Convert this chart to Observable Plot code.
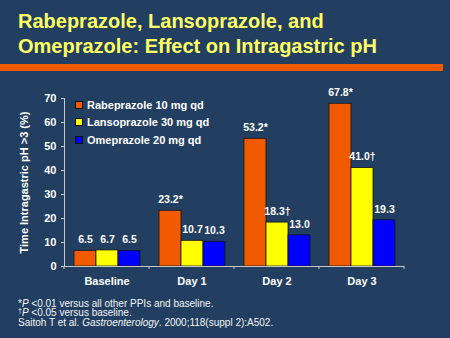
<!DOCTYPE html>
<html>
<head>
<meta charset="utf-8">
<script src="https://cdn.jsdelivr.net/npm/d3@7"></script>
<script src="https://cdn.jsdelivr.net/npm/@observablehq/plot@0.6"></script>
<style>
  html, body { margin: 0; padding: 0; }
  body { width: 450px; height: 338px; background: #223f61; position: relative; overflow: hidden;
         font-family: "Liberation Sans", Arial, sans-serif; color: #fff; }
  #title { position: absolute; left: 18px; top: 9px; font-size: 20px; line-height: 24.5px; font-weight: bold; color: #ffff66; white-space: nowrap; }
  #rule { position: absolute; left: 0; top: 64px; width: 443px; height: 7px; background: #f25a00; }
  #chart { position: absolute; left: 0; top: 80px; }
  #ylabel { position: absolute; left: -76px; top: 175.5px; width: 200px; text-align: center; font-size: 11px; line-height: 13px; font-weight: bold; transform: rotate(-90deg); white-space: nowrap; }
  #legend { position: absolute; left: 75px; top: 96px; }
  .lrow { display: flex; align-items: center; height: 17.5px; font-size: 11px; font-weight: bold; white-space: nowrap; }
  .sw { width: 6px; height: 6px; border: 1px solid #111; margin-right: 4px; }
  #notes { position: absolute; left: 18px; top: 298.5px; font-size: 10px; color: #f4f4f4; white-space: nowrap; }
  #notes div { height: 9.7px; line-height: 10px; }
  #notes sup { font-size: 7px; line-height: 0; vertical-align: 3px; }
</style>
</head>
<body>
<div id="title">Rabeprazole, Lansoprazole, and<br>Omeprazole: Effect on Intragastric pH</div>
<div id="rule"></div>
<div id="chart"></div>
<div id="ylabel">Time Intragastric pH &gt;3 (%)</div>
<div id="legend"></div>
<div id="notes">
  <div>*<i>P</i> &lt;0.01 versus all other PPIs and baseline.</div>
  <div><sup>†</sup><i>P</i> &lt;0.05 versus baseline.</div>
  <div>Saitoh T et al. <i>Gastroenterology</i>. 2000;118(suppl 2):A502.</div>
</div>
<script>
const categories = ["Baseline", "Day 1", "Day 2", "Day 3"];
const series = ["Rabeprazole 10 mg qd", "Lansoprazole 30 mg qd", "Omeprazole 20 mg qd"];
const rabeprazole = [6.5, 23.2, 53.2, 67.8];
const lansoprazole = [6.7, 10.7, 18.3, 41.0];
const omeprazole = [6.5, 10.3, 13.0, 19.3];
const rabeprazoleMarks = ["", "*", "*", "*"];
const lansoprazoleMarks = ["", "", "†", "†"];
const omeprazoleMarks = ["", "", "", ""];
const colors = ["#f25a00", "#ffff00", "#0000ff"];
const yTicks = [0, 10, 20, 30, 40, 50, 60, 70];

const values = [rabeprazole, lansoprazole, omeprazole];
const marks = [rabeprazoleMarks, lansoprazoleMarks, omeprazoleMarks];
const data = [];
categories.forEach((c, i) => series.forEach((s, j) => {
  data.push({category: c, series: s, value: values[j][i], label: values[j][i].toFixed(1) + marks[j][i]});
}));

const font = "Liberation Sans, Arial, sans-serif";
const chart = Plot.plot({
  width: 450,
  height: 215,
  marginLeft: 63,
  marginRight: 46,
  marginTop: 18,
  marginBottom: 29,
  style: {background: "transparent", color: "white", fontFamily: font, overflow: "visible"},
  fx: {domain: categories, padding: 0},
  x: {domain: series, paddingInner: 0, paddingOuter: 0.38, axis: null},
  y: {domain: [0, 70], axis: null},
  color: {domain: series, range: colors},
  marks: [
    Plot.barY(data, {fx: "category", x: "series", y: "value", fill: "series", stroke: "#151515", strokeWidth: 0.8}),
    Plot.text(data, {fx: "category", x: "series", y: "value", text: "label", lineAnchor: "middle", dy: -11,
      fill: "white", fontSize: 10.5, fontWeight: "bold"}),
    Plot.ruleY([0], {stroke: "#c8c8c8", strokeWidth: 1}),
    Plot.axisY({ticks: yTicks, tickSize: 3, tickPadding: 5, fontSize: 11, fontWeight: "bold", stroke: "#c8c8c8", fill: "white", label: null}),
    Plot.frame({anchor: "left", facetAnchor: "left", stroke: "#c8c8c8"}),
    Plot.axisFx({anchor: "bottom", tickSize: 0, tickPadding: 11, fontSize: 11, fontWeight: "bold", fill: "white", label: null})
  ]
});

// boundary tick marks along the x axis, from the fx scale
const fx = chart.scale("fx");
const y = chart.scale("y");
const y0 = y.apply(0);
const svg = d3.select(chart.tagName.toLowerCase() === "svg" ? chart : chart.querySelector("svg"));
const bounds = categories.map(c => fx.apply(c)).concat([fx.apply(categories[categories.length - 1]) + fx.bandwidth]);
svg.append("g").selectAll("line").data(bounds).join("line")
  .attr("x1", d => d).attr("x2", d => d)
  .attr("y1", y0).attr("y2", y0 + 3)
  .attr("stroke", "#c8c8c8");

document.getElementById("chart").appendChild(chart);

const legend = d3.select("#legend");
series.forEach((s, j) => {
  const row = legend.append("div").attr("class", "lrow");
  row.append("div").attr("class", "sw").style("background", colors[j]);
  row.append("span").text(s);
});
</script>
</body>
</html>
